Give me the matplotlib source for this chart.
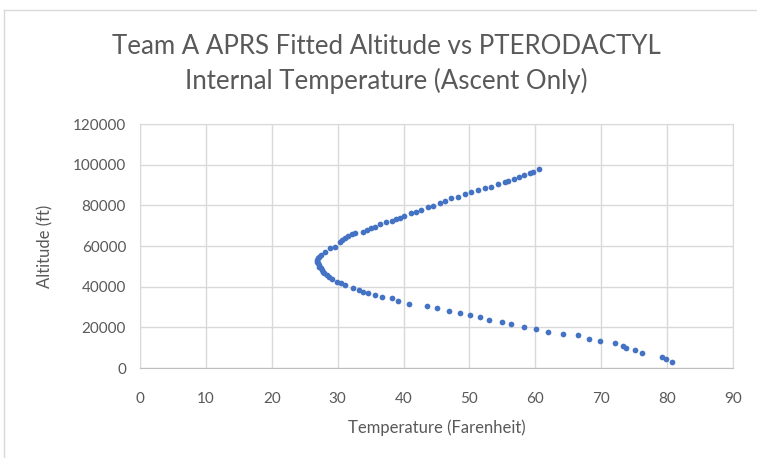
import matplotlib.pyplot as plt
from matplotlib.lines import Line2D

# Temperatura (F) y altitud (ft), lectura del grafico original
temp_f = [80.7, 79.9, 79.2, 76.2, 75.1, 73.8, 73.3, 72.1, 69.8, 68.1,
          66.5, 64.2, 61.9, 60.1, 58.3, 56.3, 54.9, 52.9, 51.6, 50.1,
          48.6, 46.9, 45.1, 43.5, 40.8, 39.2, 38.2, 36.7, 35.7, 34.6,
          33.8, 33.3, 32.4, 31.1, 30.5, 29.9, 29.1, 28.7, 28.4, 28.0,
          27.8, 27.6, 27.4, 27.2, 27.1, 27.0, 26.9, 26.9, 27.0, 27.1,
          27.4, 28.1, 28.8, 29.6, 30.4, 30.6, 31.1, 31.6, 32.1, 32.6,
          33.8, 34.4, 35.1, 35.7, 36.4, 37.4, 38.2, 38.9, 39.5, 40.0,
          41.1, 41.9, 42.6, 43.7, 44.4, 45.5, 46.3, 47.2, 48.2, 49.3,
          50.2, 51.3, 52.4, 53.3, 54.3, 55.4, 55.9, 56.7, 57.5, 58.3,
          59.2, 59.7, 60.5]
altitude_ft = [3000, 4300, 5600, 7500, 9000, 10000, 11000, 12400, 13400, 14400,
               16000, 16900, 17900, 19200, 20300, 21800, 22800, 23800, 25200, 26200,
               27200, 28200, 29700, 30600, 31600, 33100, 34300, 35100, 35900, 37000,
               37500, 38400, 39500, 40600, 41700, 42500, 44000, 45000, 45700, 46500,
               47400, 48200, 49000, 49800, 50700, 51400, 52300, 53000, 54000, 54800,
               55600, 57200, 58900, 59700, 62100, 63000, 64100, 65100, 65800, 66200,
               67000, 67900, 68700, 69500, 70800, 72000, 72400, 73100, 73900, 74800,
               76100, 76900, 77700, 79000, 79800, 81000, 82000, 83500, 84200, 85400,
               86400, 87500, 88400, 89200, 90300, 91300, 92100, 93000, 94100, 94900,
               95800, 96500, 97700]

x_ticks = [0, 10, 20, 30, 40, 50, 60, 70, 80, 90]
y_ticks = [0, 20000, 40000, 60000, 80000, 100000, 120000]

plt.rcParams['font.family'] = ['Lato', 'DejaVu Sans']
gris = '#595959'
linea = '#D9D9D9'

fig = plt.figure(figsize=(7.57, 4.58), dpi=100)
ax = fig.add_axes([140/757, 1 - 368/458, (733 - 140)/757, (368 - 124)/458])

ax.scatter(temp_f, altitude_ft, s=17, color='#4472C4', zorder=3, linewidths=0)

ax.set_xlim(0, 90)
ax.set_ylim(0, 120000)
ax.set_xticks(x_ticks)
ax.set_yticks(y_ticks)
ax.grid(True, color=linea, linewidth=1)
ax.set_axisbelow(True)
ax.tick_params(length=0, colors=gris, labelsize=11)
ax.tick_params(axis='x', pad=17)
ax.tick_params(axis='y', pad=10)
for s in ax.spines.values():
    s.set_color(linea)
ax.spines['bottom'].set_color('#BFBFBF')

ax.set_xlabel('Temperature (Farenheit)', color=gris, fontsize=12, labelpad=10)
ax.set_ylabel('Altitude (ft)', color=gris, fontsize=12, labelpad=14)

fig.text(386/757, 1 - 64/458,
         'Team A APRS Fitted Altitude vs PTERODACTYL\nInternal Temperature (Ascent Only)',
         ha='center', va='center', fontsize=18.6, color=gris, linespacing=1.45)

# Marco del grafico
fig.add_artist(Line2D([4/757, 1], [1 - 10/458, 1 - 10/458], color=linea, linewidth=1))
fig.add_artist(Line2D([4/757, 4/757], [0, 1 - 10/458], color=linea, linewidth=1))

plt.savefig('out.png', dpi=100)
